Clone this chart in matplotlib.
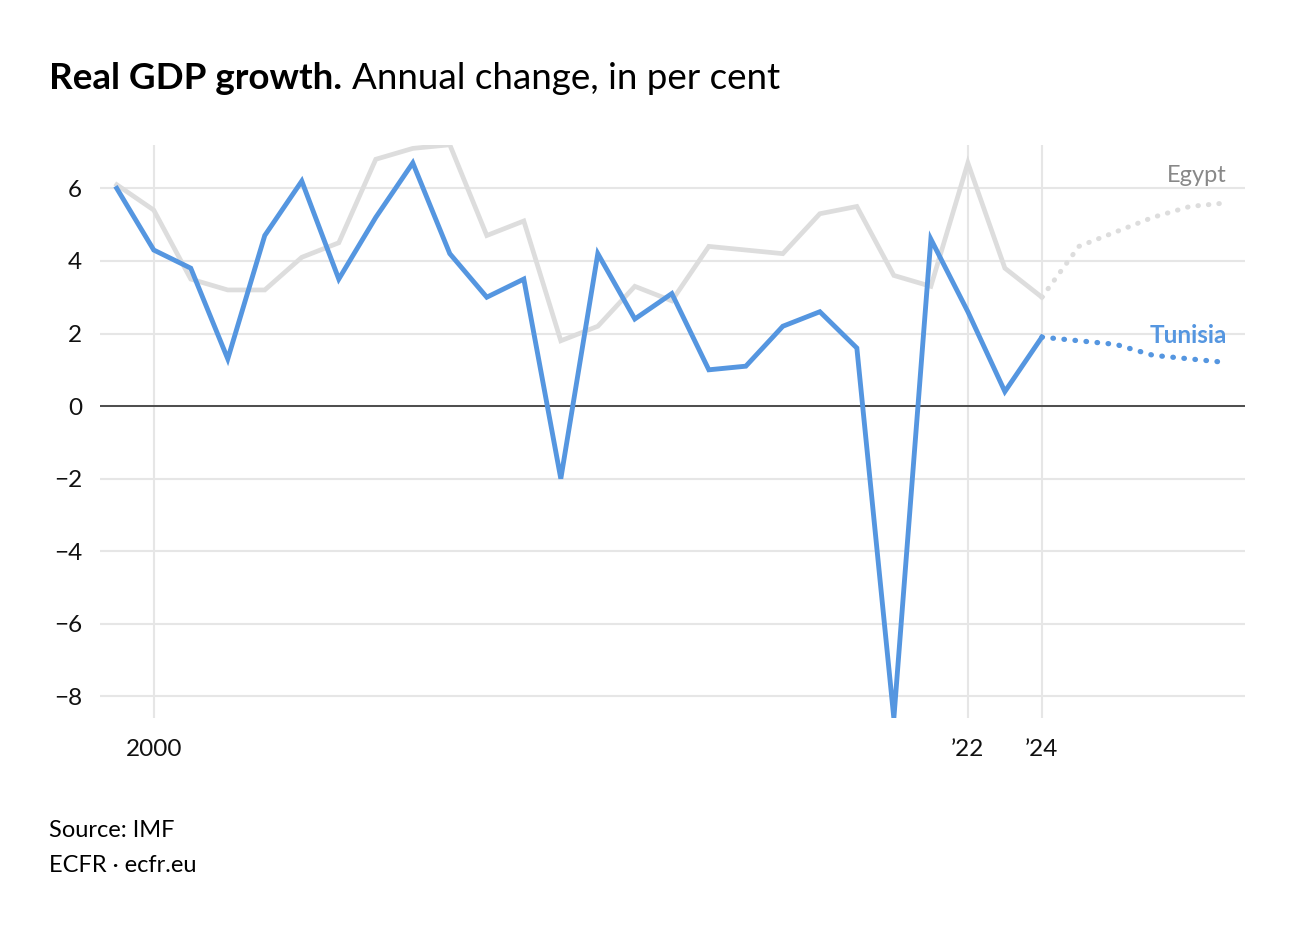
import numpy as np
import matplotlib
matplotlib.use("Agg")
import matplotlib.pyplot as plt

plt.rcParams['font.family'] = ['Lato', 'DejaVu Sans']

# data (IMF real GDP growth, %)
years = list(range(1999, 2025))
tunisia = [6.0, 4.3, 3.8, 1.3, 4.7, 6.2, 3.5, 5.2, 6.7, 4.2, 3.0, 3.5, -2.0,
           4.2, 2.4, 3.1, 1.0, 1.1, 2.2, 2.6, 1.6, -8.6, 4.6, 2.6, 0.4, 1.9]
egypt = [6.1, 5.4, 3.5, 3.2, 3.2, 4.1, 4.5, 6.8, 7.1, 7.2, 4.7, 5.1, 1.8,
         2.2, 3.3, 2.9, 4.4, 4.3, 4.2, 5.3, 5.5, 3.6, 3.3, 6.7, 3.8, 3.0]

proj_years = [2024, 2025, 2026, 2027, 2028, 2029]
tunisia_proj = [1.9, 1.8, 1.7, 1.4, 1.3, 1.2]
egypt_proj = [3.0, 4.4, 4.8, 5.2, 5.5, 5.6]

yticks = [-8, -6, -4, -2, 0, 2, 4, 6]
xticks = [2000, 2022, 2024]
xticklabels = ['2000', "\u201922", "\u201924"]

blue = '#5596e0'
grey = '#dddddd'

fig = plt.figure(figsize=(13, 9.34), dpi=100)
ax = fig.add_axes([0.077, 0.231, 0.881, 0.614])

ax.plot(years, egypt, color=grey, lw=3.4, solid_joinstyle='miter', zorder=3)
ax.plot(proj_years, egypt_proj, color=grey, lw=3.6, linestyle=(0, (0.1, 2.0)),
        dash_capstyle='round', zorder=3)
ax.plot(years, tunisia, color=blue, lw=3.5, solid_joinstyle='miter', zorder=4)
ax.plot(proj_years, tunisia_proj, color=blue, lw=3.8, linestyle=(0, (0.1, 2.0)),
        dash_capstyle='round', zorder=4)

ax.axhline(0, color='#333333', lw=1.2, zorder=2)

ax.set_xlim(1998.55, 2029.5)
ax.set_ylim(-8.6, 7.2)
ax.set_yticks(yticks)
ax.set_yticklabels([str(v).replace('-', '\u2212') for v in yticks])
ax.set_xticks(xticks)
ax.set_xticklabels(xticklabels)
ax.grid(True, color='#e6e6e6', lw=1.5, zorder=0)
ax.tick_params(length=0, labelsize=17.5, colors='#111111')
ax.tick_params(axis='x', pad=15)
ax.tick_params(axis='y', pad=13)
for s in ax.spines.values():
    s.set_visible(False)

ax.text(2029.0, 6.35, 'Egypt', color='#888888', fontsize=17, ha='right', va='center')
ax.text(2029.0, 1.95, 'Tunisia', color=blue, fontsize=17.5, fontweight='bold',
        ha='right', va='center')

# title: bold lead-in followed by regular text
t1 = fig.text(0.038, 0.905, 'Real GDP growth.', fontsize=26.5, fontweight='bold',
              color='#000000', va='baseline')
fig.canvas.draw()
bb = t1.get_window_extent()
fig.text(bb.x1 / fig.bbox.width + 0.007, 0.905, 'Annual change, in per cent',
         fontsize=26.5, color='#000000', va='baseline')

fig.text(0.038, 0.104, 'Source: IMF', fontsize=17, color='#000000')
fig.text(0.038, 0.066, 'ECFR \u00b7 ecfr.eu', fontsize=17, color='#000000')

fig.savefig('out.png', dpi=100, facecolor='white')
